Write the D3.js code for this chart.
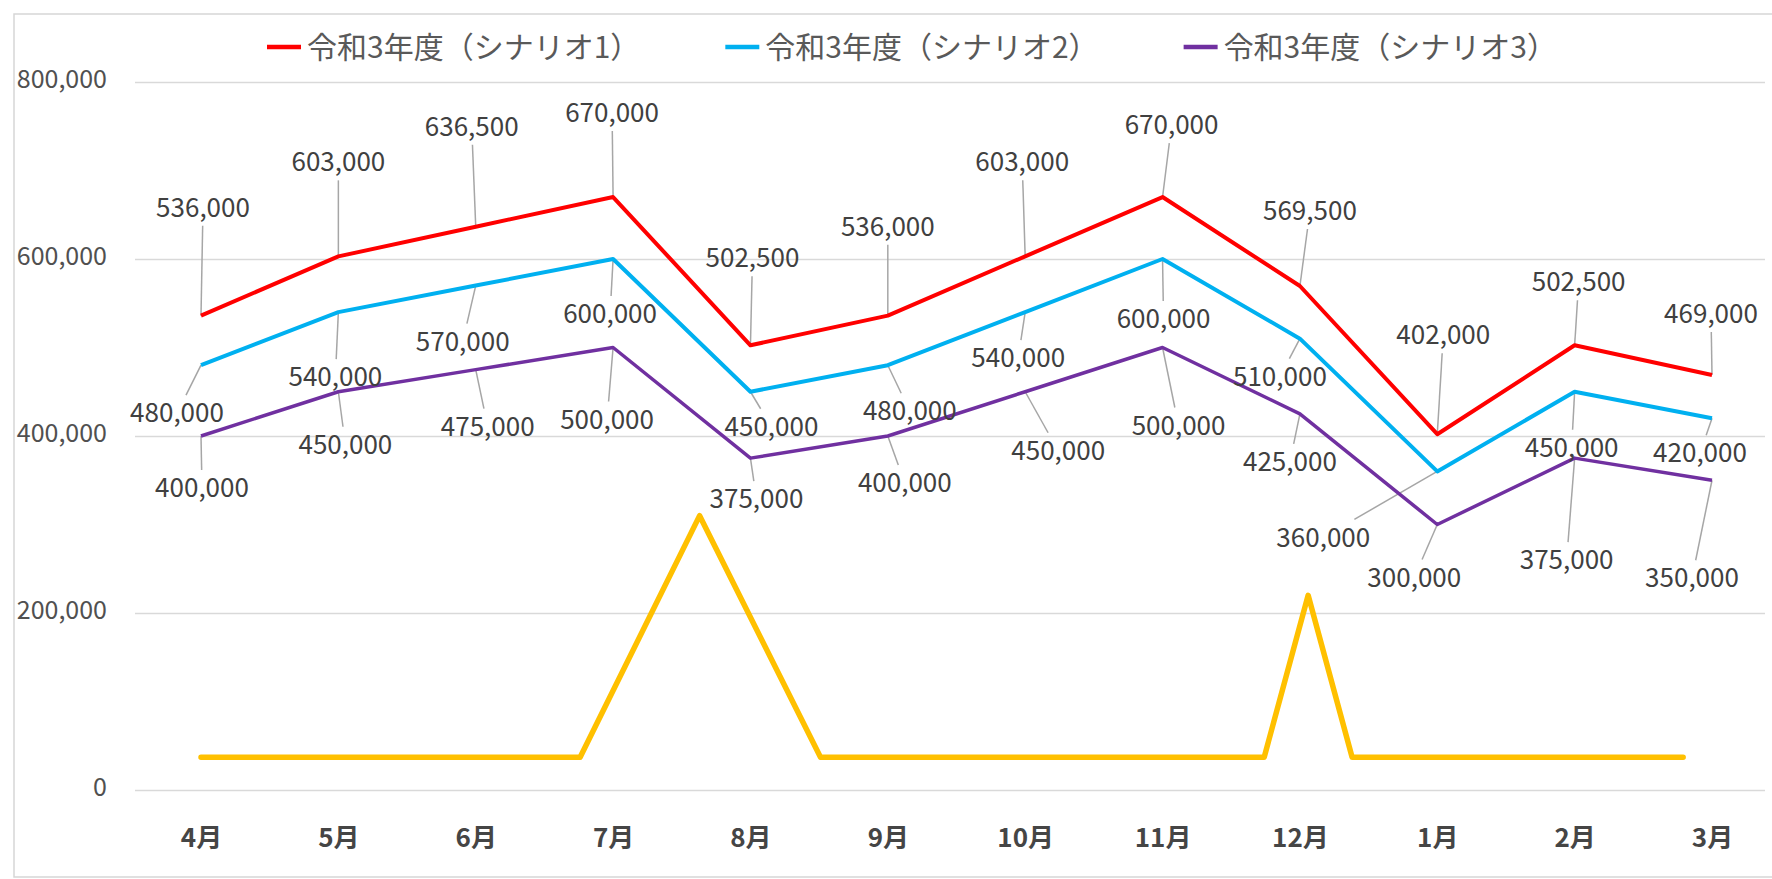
<!DOCTYPE html>
<html>
<head>
<meta charset="utf-8">
<script src="https://cdn.jsdelivr.net/npm/d3@7/dist/d3.min.js"></script>
<style>
    body { margin: 0; background: #fff; }
    text { font-family: "Noto Sans CJK JP", "Noto Sans", sans-serif; }
</style>
</head>
<body>
<script>
const months = ["4月", "5月", "6月", "7月", "8月", "9月", "10月", "11月", "12月", "1月", "2月", "3月"];
const seriesNames = ["令和3年度（シナリオ1）", "令和3年度（シナリオ2）", "令和3年度（シナリオ3）"];
const scenario1 = [536000, 603000, 636500, 670000, 502500, 536000, 603000, 670000, 569500, 402000, 502500, 469000];
const scenario2 = [480000, 540000, 570000, 600000, 450000, 480000, 540000, 600000, 510000, 360000, 450000, 420000];
const scenario3 = [400000, 450000, 475000, 500000, 375000, 400000, 450000, 500000, 425000, 300000, 375000, 350000];
// unnamed yellow series, drawn against month index (it does not sit on the categories)
const extraPos = [0, 2.76, 3.63, 4.51, 7.74, 8.06, 8.38, 10.79];
const extraVal = [37000, 37000, 310000, 37000, 37000, 220000, 37000, 37000];
const yTicks = [0, 200000, 400000, 600000, 800000];

// label placement (px from the point to the label centre), as laid out in the original
const offsets1 = [[2,-108],[0,-94],[-4,-100],[-1,-84],[2,-87],[0,-89],[-3,-94],[9,-72],[10,-75],[6,-99],[4,-63],[-1,-61]];
const offsets2 = [[-24,48],[-3,65],[-13,56],[-3,55],[21,35],[22,46],[-7,46],[1,60],[-20,38],[-114,66],[-3,56],[-12,35]];
const offsets3 = [[1,52],[7,53],[12,57],[-6,72],[6,41],[17,47],[33,59],[16,78],[-10,48],[-23,53],[-8,102],[-20,98]];

const width = 1772, height = 879;
const svg = d3.select("body")
    .append("svg")
    .attr("width", width)
    .attr("height", height);

// frame of the scanned chart
svg.append("rect")
    .attr("x", 14).attr("y", 14)
    .attr("width", 1800).attr("height", 863)
    .attr("fill", "none")
    .attr("stroke", "#d6d6d6")
    .attr("stroke-width", 1.5);

let x = d3.scalePoint().domain(months).range([201, 1712]);
let xi = d3.scaleLinear().domain([0, months.length - 1]).range([201, 1712]);
let y = d3.scaleLinear().domain([0, 800000]).range([790, 82]);

// gridlines
let grid = svg.append("g")
    .attr("transform", "translate(135,0)")
    .call(d3.axisLeft(y)
        .tickValues(yTicks)
        .tickSize(-1630)
        .tickFormat("")
    );
grid.select(".domain").remove();
grid.selectAll("line").attr("stroke", "#d9d9d9").attr("stroke-width", 1.5);

// y labels
let yAxis = svg.append("g")
    .attr("transform", "translate(135,0)")
    .call(d3.axisLeft(y)
        .tickValues(yTicks)
        .tickSize(0)
        .tickPadding(28)
        .tickFormat(d3.format(","))
    );
yAxis.select(".domain").remove();
yAxis.selectAll("text")
    .attr("font-size", 25)
    .attr("fill", "#505050")
    .attr("dy", "0.2em")
    .style("font-family", "'Noto Sans CJK JP'");

// x labels
let xAxis = svg.append("g")
    .attr("transform", "translate(0,790)")
    .call(d3.axisBottom(x)
        .tickSize(0)
        .tickPadding(39)
    );
xAxis.select(".domain").remove();
xAxis.selectAll("text")
    .attr("font-size", 26)
    .attr("font-weight", "bold")
    .attr("fill", "#454545")
    .style("font-family", "'Noto Sans CJK JP'");

const series = [
    {name: seriesNames[0], values: scenario1, color: "#ff0000", w: 4, offsets: offsets1},
    {name: seriesNames[1], values: scenario2, color: "#00b0f0", w: 4, offsets: offsets2},
    {name: seriesNames[2], values: scenario3, color: "#7030a0", w: 3.5, offsets: offsets3}
];

// leader lines: from the point to the edge of the label box
function leaderEnd(px, py, cx, cy) {
    const dx = px - cx, dy = py - cy, hw = 50, hh = 18;
    const t = Math.min(dx ? hw / Math.abs(dx) : Infinity, dy ? hh / Math.abs(dy) : Infinity);
    if (t >= 1) return null;
    return [cx + dx * t, cy + dy * t];
}

let leaders = svg.append("g");
series.forEach(function(s) {
    s.values.forEach(function(v, i) {
        const px = x(months[i]), py = y(v);
        const cx = px + s.offsets[i][0], cy = py + s.offsets[i][1];
        const e = leaderEnd(px, py, cx, cy);
        if (!e || Math.hypot(e[0] - px, e[1] - py) < 6) return;
        leaders.append("line")
            .attr("x1", px).attr("y1", py)
            .attr("x2", e[0]).attr("y2", e[1])
            .attr("stroke", "#a6a6a6")
            .attr("stroke-width", 1.5);
    });
});

// yellow series
svg.append("path")
    .datum(extraVal)
    .attr("fill", "none")
    .attr("stroke", "#ffc000")
    .attr("stroke-width", 5.5)
    .attr("stroke-linejoin", "round")
    .attr("stroke-linecap", "round")
    .attr("d", d3.line()
        .x(function(d, i) { return xi(extraPos[i]) })
        .y(function(d) { return y(d) })
    );

series.forEach(function(s) {
    svg.append("path")
        .datum(s.values)
        .attr("fill", "none")
        .attr("stroke", s.color)
        .attr("stroke-width", s.w)
        .attr("stroke-linejoin", "round")
        .attr("d", d3.line()
            .x(function(d, i) { return x(months[i]) })
            .y(function(d) { return y(d) })
        );
});

// data labels
series.forEach(function(s) {
    svg.append("g")
        .selectAll("text")
        .data(s.values)
        .join("text")
        .attr("x", function(d, i) { return x(months[i]) + s.offsets[i][0] })
        .attr("y", function(d, i) { return y(d) + s.offsets[i][1] })
        .attr("dy", "0.35em")
        .attr("text-anchor", "middle")
        .attr("font-size", 26)
        .attr("fill", "#404040")
        .text(d3.format(","));
});

// legend
let legend = svg.append("g").attr("transform", "translate(0,47)");
let cur = 267;
series.forEach(function(s) {
    legend.append("line")
        .attr("x1", cur).attr("x2", cur + 34)
        .attr("y1", 0).attr("y2", 0)
        .attr("stroke", s.color)
        .attr("stroke-width", 4.5);
    let t = legend.append("text")
        .attr("x", cur + 40)
        .attr("y", 0)
        .attr("dy", "0.36em")
        .attr("font-size", 30)
        .attr("fill", "#595959")
        .text(s.name);
    cur += 40 + t.node().getComputedTextLength() + 85;
});
</script>
</body>
</html>
